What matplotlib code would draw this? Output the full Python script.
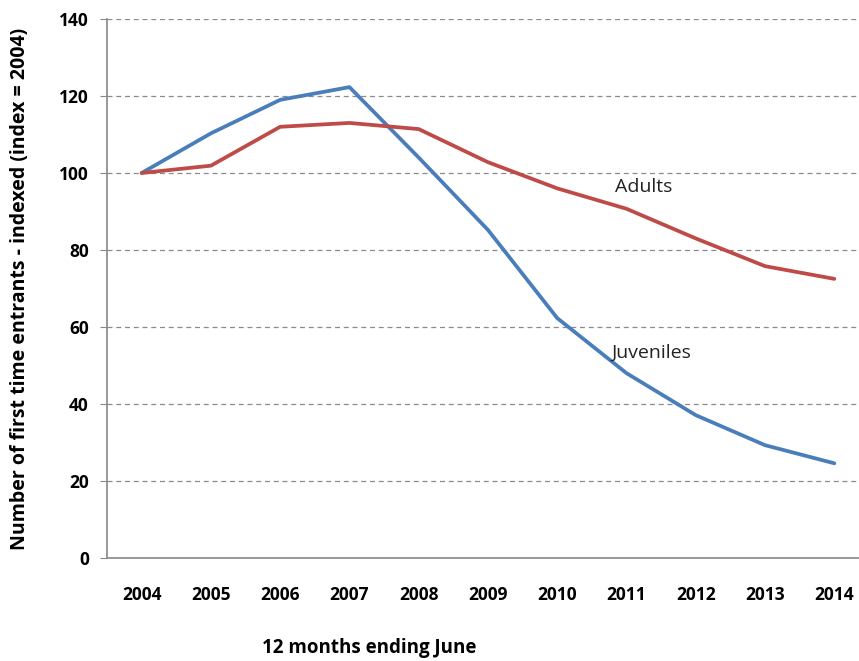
import matplotlib
matplotlib.use("Agg")
import matplotlib.pyplot as plt

years = ["2004", "2005", "2006", "2007", "2008", "2009",
         "2010", "2011", "2012", "2013", "2014"]
juveniles = [100, 110.3, 119, 122.3, 104, 85.2, 62.3, 48, 37.1, 29.3, 24.6]
adults = [100, 101.9, 112, 113, 111.4, 102.8, 96, 90.7, 83, 75.8, 72.5]
y_ticks = [0, 20, 40, 60, 80, 100, 120, 140]

plt.rcParams["font.family"] = ["Open Sans", "DejaVu Sans"]

fig = plt.figure(figsize=(8.59, 6.61), dpi=100)
# plot area runs a little past the right edge, as in the source image
ax = fig.add_axes([0.1246, 0.1558, 0.887, 0.8155])

x = list(range(len(years)))
ax.plot(x, juveniles, color="#4a7ebb", lw=2.7, solid_capstyle="round", zorder=3)
ax.plot(x, adults, color="#be4b48", lw=2.7, solid_capstyle="round", zorder=3)

ax.text(6.83, 96.4, "Adults", fontsize=14, color="#222222",
        va="center", ha="left")
ax.text(6.78, 53.3, "Juveniles", fontsize=14, color="#222222",
        va="center", ha="left")

ax.set_xlim(-0.5, len(years) - 0.5)
ax.set_ylim(0, 140)
ax.set_xticks(x)
ax.set_xticklabels(years, fontweight="bold", fontsize=12.5)
ax.set_yticks(y_ticks)
ax.set_yticklabels([str(v) for v in y_ticks], fontweight="bold", fontsize=12.5)
ax.tick_params(axis="x", length=0, pad=20)
ax.tick_params(axis="y", length=5, color="#888888", pad=8)

ax.yaxis.grid(True, linestyle=(0, (4, 3)), color="#8c8c8c", lw=0.9)
ax.set_axisbelow(True)
for side in ("top", "right"):
    ax.spines[side].set_visible(False)
for side in ("left", "bottom"):
    ax.spines[side].set_color("#888888")
    ax.spines[side].set_linewidth(1.2)

ax.set_ylabel("Number of first time entrants - indexed (index = 2004)",
              fontweight="bold", fontsize=14)
ax.yaxis.set_label_coords(-0.101, 0.5)
fig.text(369 / 859, 1 - 648 / 661, "12 months ending June",
         fontweight="bold", fontsize=13.5, ha="center", va="center")

fig.savefig("out.png", dpi=100)
